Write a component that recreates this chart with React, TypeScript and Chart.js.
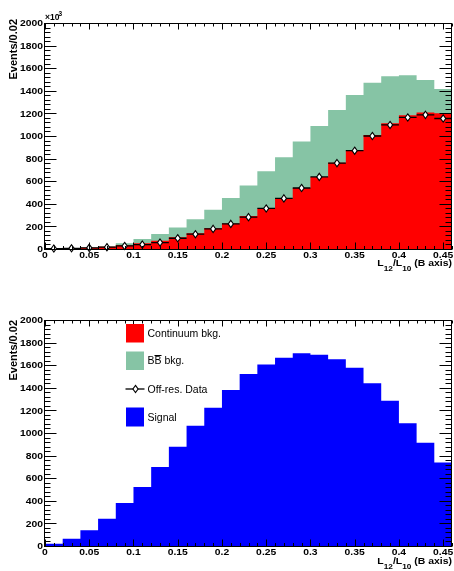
import React, { useEffect, useRef } from "react";
import { Chart, registerables } from "chart.js";

Chart.register(...registerables);

// Histogram binning: 23 bins of width 0.02 on L12/L10
const X_MIN = 0;
const X_MAX = 0.46;
const BIN_WIDTH = 0.02;
const binLow = [
  0, 0.02, 0.04, 0.06, 0.08, 0.1, 0.12, 0.14, 0.16, 0.18, 0.2, 0.22,
  0.24, 0.26, 0.28, 0.3, 0.32, 0.34, 0.36, 0.38, 0.4, 0.42, 0.44,
];

// Upper panel (x10^3 events / 0.02)
const continuum = [
  5, 6, 10, 20, 34, 50, 74, 104, 140, 184, 225, 291, 359, 445, 540, 638,
  763, 875, 1008, 1113, 1184, 1208, 1202,
];
const bbbar = [
  1, 2, 4, 2, 16, 39, 59, 86, 124, 163, 226, 272, 329, 368, 412, 450, 468,
  487, 463, 415, 353, 287, 213,
];
const offRes = [
  4, 6, 10, 16, 27, 39, 57, 95, 131, 178, 222, 282, 359, 448, 540, 638, 760,
  870, 1000, 1098, 1164, 1187, 1155,
];
const offResErr = [
  30, 30, 32, 30, 28, 26, 25, 25, 25, 25, 25, 25, 25, 25, 25, 25, 25, 25,
  25, 25, 25, 25, 25,
];

// Lower panel (events / 0.02)
const signal = [
  20, 65, 139, 241, 380, 523, 699, 878, 1065, 1223, 1380, 1523, 1607, 1666,
  1705, 1693, 1652, 1577, 1440, 1286, 1086, 913, 738,
];

const xTicks = [0, 0.05, 0.1, 0.15, 0.2, 0.25, 0.3, 0.35, 0.4, 0.45];
const xTickLabels = ["0", "0.05", "0.1", "0.15", "0.2", "0.25", "0.3", "0.35", "0.4", "0.45"];
const yTicks = [0, 200, 400, 600, 800, 1000, 1200, 1400, 1600, 1800, 2000];
const yTickLabels = ["0", "200", "400", "600", "800", "1000", "1200", "1400", "1600", "1800", "2000"];
const Y_MAX = 2000;

const RED = "#ff0000";
const GREEN = "#86c4a5";
const BLUE = "#0000ff";
const FONT = '"Liberation Sans", Arial, Helvetica, sans-serif';

function histPoints(values: number[]) {
  const pts = binLow.map((x, i) => ({ x, y: values[i] }));
  pts.push({ x: X_MAX, y: values[values.length - 1] });
  return pts;
}

function histDataset(label: string, values: number[], color: string, order: number) {
  return {
    label,
    data: histPoints(values),
    // each bin's value is held until the next bin edge
    stepped: "before" as const,
    fill: "origin",
    backgroundColor: color,
    borderColor: "rgba(0,0,0,0)",
    borderWidth: 0,
    pointRadius: 0,
    order,
  };
}

function textScaled(
  ctx: CanvasRenderingContext2D,
  text: string,
  x: number,
  y: number,
  align: CanvasTextAlign,
  sx = 1.15
) {
  ctx.save();
  ctx.translate(x, y);
  ctx.scale(sx, 1);
  ctx.textAlign = align;
  ctx.textBaseline = "alphabetic";
  ctx.fillText(text, 0, 0);
  ctx.restore();
}

function diamond(ctx: CanvasRenderingContext2D, x: number, y: number) {
  ctx.beginPath();
  ctx.moveTo(x, y - 3.6);
  ctx.lineTo(x + 2.6, y);
  ctx.lineTo(x, y + 3.6);
  ctx.lineTo(x - 2.6, y);
  ctx.closePath();
  ctx.fillStyle = "#ffffff";
  ctx.fill();
  ctx.lineWidth = 1.1;
  ctx.strokeStyle = "#000";
  ctx.stroke();
}

function drawXTitle(ctx: CanvasRenderingContext2D, right: number, base: number) {
  const sx = 1.1;
  const parts = [
    { t: "L", size: 9.5, dy: 0 },
    { t: "12", size: 7.5, dy: 5 },
    { t: "/L", size: 9.5, dy: 0 },
    { t: "10", size: 7.5, dy: 5 },
    { t: " (B axis)", size: 9.5, dy: 0 },
  ];
  let total = 0;
  const widths = parts.map((p) => {
    ctx.font = `bold ${p.size}px ${FONT}`;
    const w = ctx.measureText(p.t).width * sx;
    total += w;
    return w;
  });
  let x = right - total;
  parts.forEach((p, i) => {
    ctx.font = `bold ${p.size}px ${FONT}`;
    textScaled(ctx, p.t, x, base + p.dy, "left", sx);
    x += widths[i];
  });
}

function drawAxes(chart: any, yTitleTop: number, xTitleBase: number, exponent: boolean) {
  const { ctx, chartArea: a, scales } = chart;
  const xs = scales.x;
  const ys = scales.y;
  const L = Math.floor(a.left) - 0.5;
  const R = Math.floor(a.right) - 0.5;
  const T = Math.floor(a.top) + 0.5;
  const B = Math.floor(a.bottom) + 0.5;
  ctx.save();
  ctx.strokeStyle = "#000";
  ctx.lineWidth = 1;
  ctx.strokeRect(L, T, R - L, B - T);

  ctx.beginPath();
  // x ticks, bottom and top edges
  for (let k = 0; k <= 46; k++) {
    const v = k * 0.01;
    const major = k % 5 === 0;
    const px = Math.round(xs.getPixelForValue(v)) + 0.5;
    const lb = major ? 7 : 3.5;
    const lt = major ? 6 : 3;
    ctx.moveTo(px, B);
    ctx.lineTo(px, B - lb);
    ctx.moveTo(px, T);
    ctx.lineTo(px, T + lt);
  }
  // y ticks, left and right edges
  for (let k = 0; k <= 50; k++) {
    const v = k * 40;
    const major = v % 200 === 0;
    const py = Math.round(ys.getPixelForValue(v)) + 0.5;
    const len = major ? 12 : 6;
    ctx.moveTo(L, py);
    ctx.lineTo(L + len, py);
    ctx.moveTo(R, py);
    ctx.lineTo(R - len, py);
  }
  ctx.stroke();

  ctx.fillStyle = "#000";
  ctx.font = `bold 9px ${FONT}`;
  xTicks.forEach((v, i) => {
    textScaled(ctx, xTickLabels[i], xs.getPixelForValue(v), a.bottom + 9.3, "center");
  });
  yTicks.forEach((v, i) => {
    textScaled(ctx, yTickLabels[i], a.left - 2, ys.getPixelForValue(v) + 3.2, "right");
  });

  // y title
  ctx.save();
  ctx.translate(16.5, yTitleTop);
  ctx.rotate(-Math.PI / 2);
  ctx.font = `bold 11px ${FONT}`;
  ctx.textAlign = "right";
  ctx.textBaseline = "alphabetic";
  ctx.fillText("Events/0.02", 0, 0);
  ctx.restore();

  if (exponent) {
    ctx.font = `bold 8.5px ${FONT}`;
    ctx.textAlign = "left";
    ctx.fillText("\u00d710", 45, 20);
    ctx.font = `bold 6.5px ${FONT}`;
    ctx.fillText("3", 58.5, 15.5);
  }

  drawXTitle(ctx, a.right, xTitleBase);
  ctx.restore();
}

function drawOffRes(chart: any) {
  const { ctx, scales } = chart;
  const xs = scales.x;
  const ys = scales.y;
  ctx.save();
  ctx.strokeStyle = "#000";
  ctx.lineWidth = 1.3;
  ctx.beginPath();
  offRes.forEach((v, i) => {
    const x0 = xs.getPixelForValue(binLow[i]);
    const x1 = xs.getPixelForValue(binLow[i] + BIN_WIDTH);
    const xc = xs.getPixelForValue(binLow[i] + BIN_WIDTH / 2);
    const y = ys.getPixelForValue(v);
    ctx.moveTo(x0, y);
    ctx.lineTo(x1, y);
    ctx.moveTo(xc, ys.getPixelForValue(Math.max(0, v - offResErr[i])));
    ctx.lineTo(xc, ys.getPixelForValue(v + offResErr[i]));
  });
  ctx.stroke();
  offRes.forEach((v, i) => {
    diamond(ctx, xs.getPixelForValue(binLow[i] + BIN_WIDTH / 2), ys.getPixelForValue(v));
  });
  ctx.restore();
}

function drawLegend(chart: any) {
  const { ctx } = chart;
  ctx.save();
  ctx.font = `10.5px ${FONT}`;
  ctx.textAlign = "left";
  ctx.textBaseline = "alphabetic";
  ctx.fillStyle = RED;
  ctx.fillRect(126, 39, 18, 18.5);
  ctx.fillStyle = GREEN;
  ctx.fillRect(126, 66.5, 18, 18.5);
  ctx.fillStyle = BLUE;
  ctx.fillRect(126, 122.5, 18, 19);

  ctx.fillStyle = "#000";
  ctx.fillText("Continuum bkg.", 147.5, 51.8);
  // B B-bar
  ctx.fillText("B", 147.5, 79.3);
  const wB = ctx.measureText("B").width;
  ctx.fillText("B", 147.5 + wB, 79.3);
  ctx.fillText(" bkg.", 147.5 + 2 * wB, 79.3);
  ctx.strokeStyle = "#000";
  ctx.lineWidth = 1;
  ctx.beginPath();
  ctx.moveTo(147.5 + wB, 70.5);
  ctx.lineTo(147.5 + 2 * wB, 70.5);
  ctx.stroke();

  ctx.lineWidth = 1.3;
  ctx.beginPath();
  ctx.moveTo(125.5, 104);
  ctx.lineTo(144.5, 104);
  ctx.stroke();
  diamond(ctx, 135.5, 104);
  ctx.fillStyle = "#000";
  ctx.fillText("Off-res. Data", 147.5, 107.8);
  ctx.fillText("Signal", 147.5, 135.8);
  ctx.restore();
}

function baseOptions(padding: { left: number; right: number; top: number; bottom: number }) {
  return {
    animation: false as const,
    responsive: false,
    maintainAspectRatio: false,
    events: [] as any[],
    layout: { padding },
    scales: {
      x: { type: "linear" as const, min: X_MIN, max: X_MAX, display: false },
      y: { type: "linear" as const, min: 0, max: Y_MAX, display: false },
    },
    plugins: { legend: { display: false }, tooltip: { enabled: false } },
  };
}

function BackgroundPanel() {
  const ref = useRef<HTMLCanvasElement>(null);
  useEffect(() => {
    if (!ref.current) return;
    const total = continuum.map((v, i) => v + bbbar[i]);
    const chart = new Chart(ref.current, {
      type: "line",
      data: {
        datasets: [
          histDataset("Continuum bkg.", continuum, RED, 1) as any,
          histDataset("BB bkg.", total, GREEN, 2) as any,
        ],
      },
      options: baseOptions({ left: 45, right: 2, top: 23, bottom: 36 }) as any,
      plugins: [
        {
          id: "rootAxes",
          afterDatasetsDraw(c: any) {
            drawOffRes(c);
            drawAxes(c, 19, 265.5, true);
          },
        },
      ],
    });
    return () => chart.destroy();
  }, []);
  return <canvas ref={ref} width={454} height={285} style={{ display: "block" }} />;
}

function SignalPanel() {
  const ref = useRef<HTMLCanvasElement>(null);
  useEffect(() => {
    if (!ref.current) return;
    const chart = new Chart(ref.current, {
      type: "line",
      data: {
        datasets: [histDataset("Signal", signal, BLUE, 1) as any],
      },
      options: baseOptions({ left: 45, right: 2, top: 35, bottom: 25 }) as any,
      plugins: [
        {
          id: "rootAxes",
          afterDatasetsDraw(c: any) {
            drawAxes(c, 35, 278.5, false);
            drawLegend(c);
          },
        },
      ],
    });
    return () => chart.destroy();
  }, []);
  return <canvas ref={ref} width={454} height={286} style={{ display: "block" }} />;
}

export default function App() {
  return (
    <div
      style={{
        position: "absolute",
        left: 0,
        top: 0,
        width: 454,
        height: 571,
        background: "#fff",
        overflow: "hidden",
      }}
    >
      <BackgroundPanel />
      <SignalPanel />
    </div>
  );
}
